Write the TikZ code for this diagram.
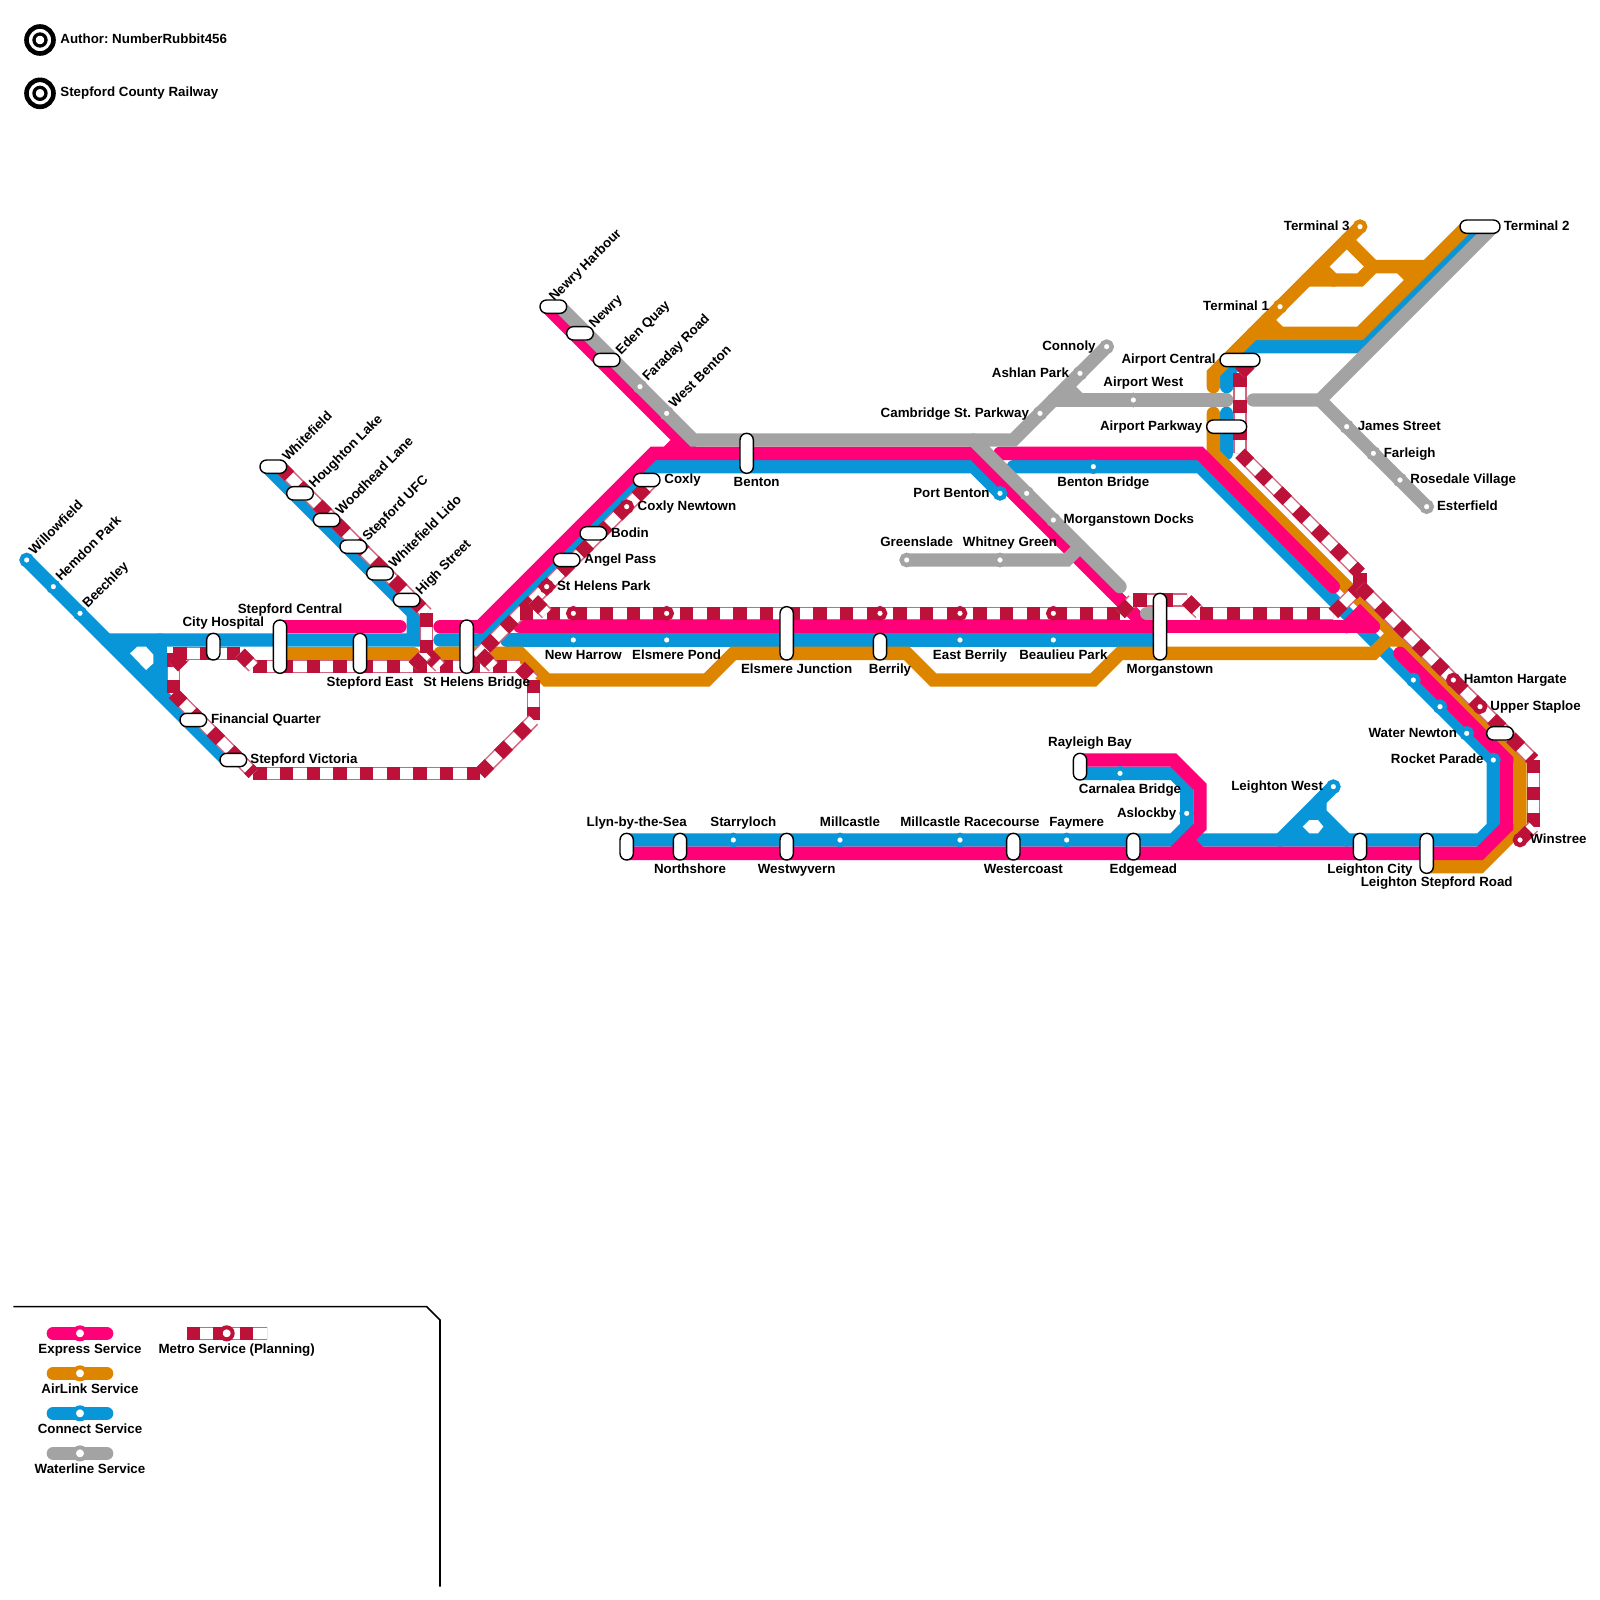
\documentclass[tikz,border=0pt]{standalone}
\usepackage{fontspec}
\setmainfont{Liberation Sans}
\frenchspacing
\definecolor{expresspink}{RGB}{255,0,120}
\definecolor{airlinkorange}{RGB}{222,133,0}
\definecolor{connectblue}{RGB}{9,150,216}
\definecolor{waterlinegrey}{RGB}{163,163,163}
\definecolor{metrored}{RGB}{188,17,56}
\begin{document}
\begin{tikzpicture}[x=6.667pt, y=-6.667pt,
  line/.style={line width=6.667pt, line cap=round},
  express/.style={line, draw=expresspink},
  airlink/.style={line, draw=airlinkorange},
  connect/.style={line, draw=connectblue},
  waterline/.style={line, draw=waterlinegrey},
  metro/.style={line width=6.667pt, draw=metrored!65,
    postaction={draw=white, line width=5.2pt},
    postaction={draw=metrored, line width=6.667pt, dash pattern=on 6.667pt off 6.667pt}},
  stn/.style={circle, draw=#1, fill=white, line width=2.2pt, minimum size=5.1pt, inner sep=0pt},
  legendstn/.style={circle, draw=#1, fill=white, line width=2pt, minimum size=6pt, inner sep=0pt},
  pillh/.style={draw=black, fill=white, line width=.7pt, rounded corners=3.3pt, inner sep=0pt, minimum height=6.667pt, minimum width=#1*6.667pt},
  pillv/.style={draw=black, fill=white, line width=.7pt, rounded corners=3.3pt, inner sep=0pt, minimum width=6.667pt, minimum height=#1*6.667pt},
  lbl/.style={font=\fontsize{6.667}{8}\selectfont\bfseries, inner sep=0pt, text height=5.5pt, text depth=.5pt},
  lblr/.style={lbl, anchor=west},
  lbll/.style={lbl, anchor=east},
  lbld/.style={lbl, anchor=west, rotate=45}
]
\useasboundingbox (0,0) rectangle (120,120);

\draw[connect] (2,42) -- (17,57);
\draw[connect] (8,48) -- (31,48) -- (31,46) -- (20,35);
\draw[connect] (12,48) -- (12,52);
\fill[connectblue] (8,48) -- (12,48) -- (12,52) -- cycle;
\fill[white] (9.75,49) -- (10.3,48.5) -- (10.95,48.5) -- (11.5,49.1) -- (11.5,49.75) -- (10.95,50.25) -- cycle;
\draw[connect] (33,48) -- (36,48) -- (49,35) -- (73,35) -- (75,37);
\draw[connect] (38,48) -- (87,48);
\draw[connect] (76,35) -- (90,35) -- (103,48) -- (112,57) -- (112,62) -- (111,63) -- (90,63);
\draw[connect] (47,63) -- (88,63) -- (89,62) -- (89,59) -- (88,58) -- (81,58);
\draw[connect] (100,59) -- (99,60) -- (99,61) -- (101,63);
\draw[connect] (100,59) -- (96,63);
\fill[connectblue] (96,63) -- (99,60) -- (99,61) -- (101,63) -- cycle;
\fill[white] (97.7,62) -- (98.2,61.5) -- (98.85,61.5) -- (99.25,62) -- (98.85,62.5) -- (98.2,62.5) -- cycle;
\draw[connect] (111,17) -- (102,26) -- (94,26) -- (92,28) -- (92,29);
\draw[connect] (92,31) -- (92,34);

\draw[airlink] (21,49) -- (31,49);
\draw[airlink] (33,49) -- (39,49) -- (41,51) -- (53,51) -- (55,49) -- (68,49) -- (70,51) -- (82,51) -- (84,49) -- (103,49) -- (104,48) -- (105,48);
\draw[airlink] (91,31) -- (91,34) -- (114,57) -- (114,62) -- (111,65) -- (107,65);
\draw[airlink] (91,29) -- (91,28) -- (102,17);
\draw[airlink] (101,18) -- (103,20) -- (107,20);
\draw[airlink] (98,21) -- (102,21) -- (103,20);
\draw[airlink] (99,20) -- (100,21);
\draw[airlink] (105,20) -- (106,21);
\draw[airlink] (94,25) -- (102,25) -- (110,17);
\draw[airlink] (95,24) -- (96,25);

\draw[express] (21,47) -- (30,47);
\draw[express] (33,47) -- (36,47) -- (49,34) -- (73,34) -- (86,47);
\draw[express] (39,47) -- (103,47);
\draw[express] (101,47) -- (102,46) -- (103,47);
\draw[express] (41,23) -- (52,34);
\draw[express] (50,34) -- (51,33);
\draw[express] (75,34) -- (90,34) -- (100,44);
\draw[express] (105,49) -- (113,57) -- (113,62) -- (111,64) -- (47,64);
\draw[express] (81,57) -- (88,57) -- (90,59) -- (90,62) -- (88,64);
\draw[express] (89,63) -- (90,64);

\draw[waterline] (42,23) -- (52,33) -- (76,33) -- (83,26);
\draw[waterline] (79,30) -- (92,30);
\draw[waterline] (80,29) -- (81,30);
\draw[waterline] (94,30) -- (99,30) -- (112,17);
\draw[waterline] (99,30) -- (107,38);
\draw[waterline] (73,33) -- (84,44);
\draw[waterline] (68,42) -- (80,42) -- (81,41);
\draw[waterline] (86,46) -- (87,46);

\draw[metro] (21,35) -- (32,46);
\draw[metro] (19,50) -- (39,50);
\draw[metro] (32,49) -- (33,50);
\draw[metro] (31,50) -- (32,49);
\draw[metro] (32,46) -- (32,49);
\draw[metro] (39,50) -- (40,51);
\draw[metro] (40,51) -- (40,54);
\draw[metro] (36,58) -- (40,54);
\draw[metro] (19,58) -- (36,58);
\draw[metro] (13,52) -- (19,58);
\draw[metro] (13,49) -- (13,52);
\draw[metro] (13,50) -- (14,49);
\draw[metro] (13,49) -- (18,49);
\draw[metro] (18,49) -- (19,50);
\draw[metro] (35,50) -- (49,36);
\draw[metro] (36,49) -- (37,50);
\draw[metro] (39,46) -- (84,46);
\draw[metro] (40,45) -- (41,46);
\draw[metro] (84,46) -- (85,45);
\draw[metro] (85,45) -- (89,45);
\draw[metro] (89,45) -- (90,46);
\draw[metro] (90,46) -- (100,46);
\draw[metro] (100,46) -- (102,44);
\draw[metro] (93,28) -- (93,34);
\draw[metro] (93,28) -- (94,27);
\draw[metro] (93,34) -- (102,43);
\draw[metro] (102,43) -- (102,44);
\draw[metro] (102,44) -- (115,57);
\draw[metro] (115,57) -- (115,62);
\draw[metro] (114,63) -- (115,62);

\node[stn=connectblue] (willowfield) at (2,42) {};
\node[stn=connectblue] (hemdonpark) at (4,44) {};
\node[stn=connectblue] (beechley) at (6,46) {};
\node[stn=connectblue] (newharrow) at (43,48) {};
\node[stn=connectblue] (elsmerepond) at (50,48) {};
\node[stn=connectblue] (eastberrily) at (72,48) {};
\node[stn=connectblue] (beaulieupark) at (79,48) {};
\node[stn=connectblue] (portbenton) at (75,37) {};
\node[stn=connectblue] (bentonbridge) at (82,35) {};
\node[stn=connectblue] (starryloch) at (55,63) {};
\node[stn=connectblue] (millcastle) at (63,63) {};
\node[stn=connectblue] (racecourse) at (72,63) {};
\node[stn=connectblue] (faymere) at (80,63) {};
\node[stn=connectblue] (carnalea) at (84,58) {};
\node[stn=connectblue] (aslockby) at (89,61) {};
\node[stn=connectblue] (leightonwest) at (100,59) {};
\node[stn=connectblue] (hamtonblue) at (106,51) {};
\node[stn=connectblue] (staploeblue) at (108,53) {};
\node[stn=connectblue] (waternewton) at (110,55) {};
\node[stn=connectblue] (rocketparade) at (112,57) {};
\node[stn=airlinkorange] (terminalone) at (96,23) {};
\node[stn=airlinkorange] (terminalthree) at (102,17) {};
\node[stn=waterlinegrey] (faradayroad) at (48,29) {};
\node[stn=waterlinegrey] (westbenton) at (50,31) {};
\node[stn=waterlinegrey] (connoly) at (83,26) {};
\node[stn=waterlinegrey] (ashlanpark) at (81,28) {};
\node[stn=waterlinegrey] (cambridge) at (78,31) {};
\node[stn=waterlinegrey] (airportwest) at (85,30) {};
\node[stn=waterlinegrey] (jamesstreet) at (101,32) {};
\node[stn=waterlinegrey] (farleigh) at (103,34) {};
\node[stn=waterlinegrey] (rosedale) at (105,36) {};
\node[stn=waterlinegrey] (esterfield) at (107,38) {};
\node[stn=waterlinegrey] (portbentongrey) at (77,37) {};
\node[stn=waterlinegrey] (morganstowndocks) at (79,39) {};
\node[stn=waterlinegrey] (greenslade) at (68,42) {};
\node[stn=waterlinegrey] (whitneygreen) at (75,42) {};
\node[stn=metrored] (sthelenspark) at (41,44) {};
\node[stn=metrored] (coxlynewtown) at (47,38) {};
\node[stn=metrored] (newharrowmetro) at (43,46) {};
\node[stn=metrored] (elsmeremetro) at (50,46) {};
\node[stn=metrored] (berrilymetro) at (66,46) {};
\node[stn=metrored] (eastberrilymetro) at (72,46) {};
\node[stn=metrored] (beaulieumetro) at (79,46) {};
\node[stn=metrored] (hamtonhargate) at (109,51) {};
\node[stn=metrored] (upperstaploe) at (111,53) {};
\node[stn=metrored] (winstree) at (114,63) {};

\node[pillh=2] (whitefield) at (20.5,35) {};
\node[pillh=2] (houghtonlake) at (22.5,37) {};
\node[pillh=2] (woodheadlane) at (24.5,39) {};
\node[pillh=2] (stepfordufc) at (26.5,41) {};
\node[pillh=2] (whitefieldlido) at (28.5,43) {};
\node[pillh=2] (highstreet) at (30.5,45) {};
\node[pillh=2] (financialquarter) at (14.5,54) {};
\node[pillh=2] (stepfordvictoria) at (17.5,57) {};
\node[pillh=2] (newryharbour) at (41.5,23) {};
\node[pillh=2] (newry) at (43.5,25) {};
\node[pillh=2] (edenquay) at (45.5,27) {};
\node[pillh=2] (coxly) at (48.5,36) {};
\node[pillh=2] (bodin) at (44.5,40) {};
\node[pillh=2] (angelpass) at (42.5,42) {};
\node[pillh=3] (airportcentral) at (93,27) {};
\node[pillh=3] (airportparkway) at (92,32) {};
\node[pillh=3] (terminaltwo) at (111,17) {};
\node[pillh=2] (staploepill) at (112.5,55) {};
\node[pillv=2] (cityhospital) at (16,48.5) {};
\node[pillv=4] (stepfordcentral) at (21,48.5) {};
\node[pillv=3] (stepfordeast) at (27,49) {};
\node[pillv=4] (sthelensbridge) at (35,48.5) {};
\node[pillv=3] (benton) at (56,34) {};
\node[pillv=4] (elsmerejunction) at (59,47.5) {};
\node[pillv=2] (berrily) at (66,48.5) {};
\node[pillv=5] (morganstown) at (87,47) {};
\node[pillv=2] (llyn) at (47,63.5) {};
\node[pillv=2] (northshore) at (51,63.5) {};
\node[pillv=2] (westwyvern) at (59,63.5) {};
\node[pillv=2] (westercoast) at (76,63.5) {};
\node[pillv=2] (edgemead) at (85,63.5) {};
\node[pillv=2] (rayleighbay) at (81,57.5) {};
\node[pillv=2] (leightoncity) at (102,63.5) {};
\node[pillv=3] (leightonstepford) at (107,64) {};

\node[lbld] (willowfieldlbl) at (2.3,41.4) {Willowfield};
\node[lbld] (hemdonparklbl) at (4.3,43.4) {Hemdon Park};
\node[lbld] (beechleylbl) at (6.3,45.4) {Beechley};
\node[lbld] (whitefieldlbl) at (21.3,34.4) {Whitefield};
\node[lbld] (houghtonlakelbl) at (23.3,36.4) {Houghton Lake};
\node[lbld] (woodheadlanelbl) at (25.3,38.4) {Woodhead Lane};
\node[lbld] (stepfordufclbl) at (27.3,40.4) {Stepford UFC};
\node[lbld] (whitefieldlidolbl) at (29.3,42.4) {Whitefield Lido};
\node[lbld] (highstreetlbl) at (31.3,44.4) {High Street};
\node[lbld] (newryharbourlbl) at (41.3,22.4) {Newry Harbour};
\node[lbld] (newrylbl) at (44.3,24.4) {Newry};
\node[lbld] (edenquaylbl) at (46.3,26.4) {Eden Quay};
\node[lbld] (faradayroadlbl) at (48.3,28.4) {Faraday Road};
\node[lbld] (westbentonlbl) at (50.3,30.4) {West Benton};

\node[lbl] (cityhospitallbl) at (16.75,46.6) {City Hospital};
\node[lbl] (stepfordcentrallbl) at (21.75,45.6) {Stepford Central};
\node[lbl] (stepfordeastlbl) at (27.75,51.1) {Stepford East};
\node[lbl] (sthelensbridgelbl) at (35.75,51.1) {St Helens Bridge};
\node[lblr] (financialquarterlbl) at (15.8,53.9) {Financial Quarter};
\node[lblr] (stepfordvictorialbl) at (18.75,56.9) {Stepford Victoria};
\node[lbl] (bentonlbl) at (56.75,36.1) {Benton};
\node[lblr] (coxlylbl) at (49.8,35.9) {Coxly};
\node[lblr] (coxlynewtownlbl) at (47.8,37.9) {Coxly Newtown};
\node[lblr] (bodinlbl) at (45.8,39.9) {Bodin};
\node[lblr] (angelpasslbl) at (43.8,41.9) {Angel Pass};
\node[lblr] (sthelensparklbl) at (41.75,43.9) {St Helens Park};
\node[lbl] (newharrowlbl) at (43.75,49.1) {New Harrow};
\node[lbl] (elsmerepondlbl) at (50.75,49.1) {Elsmere Pond};
\node[lbl] (elsmerejunctionlbl) at (59.75,50.1) {Elsmere Junction};
\node[lbl] (berrilylbl) at (66.75,50.1) {Berrily};
\node[lbl] (eastberrilylbl) at (72.75,49.1) {East Berrily};
\node[lbl] (beaulieuparklbl) at (79.75,49.1) {Beaulieu Park};
\node[lbl] (morganstownlbl) at (87.75,50.1) {Morganstown};
\node[lbll] (portbentonlbl) at (74.25,36.9) {Port Benton};
\node[lbl] (bentonbridgelbl) at (82.75,36.1) {Benton Bridge};
\node[lblr] (morganstowndockslbl) at (79.75,38.9) {Morganstown Docks};
\node[lbl] (whitneygreenlbl) at (75.75,40.6) {Whitney Green};
\node[lbl] (greensladelbl) at (68.75,40.6) {Greenslade};
\node[lbll] (cambridgelbl) at (77.2,30.9) {Cambridge St. Parkway};
\node[lbll] (ashlanparklbl) at (80.2,27.9) {Ashlan Park};
\node[lbll] (connolylbl) at (82.2,25.9) {Connoly};
\node[lbl] (airportwestlbl) at (85.75,28.6) {Airport West};
\node[lbll] (airportcentrallbl) at (91.2,26.9) {Airport Central};
\node[lbll] (airportparkwaylbl) at (90.2,31.9) {Airport Parkway};
\node[lbll] (terminalthreelbl) at (101.25,16.9) {Terminal 3};
\node[lbll] (terminalonelbl) at (95.2,22.9) {Terminal 1};
\node[lblr] (terminaltwolbl) at (112.75,16.9) {Terminal 2};
\node[lblr] (jamesstreetlbl) at (101.8,31.9) {James Street};
\node[lblr] (farleighlbl) at (103.75,33.9) {Farleigh};
\node[lblr] (rosedalelbl) at (105.75,35.9) {Rosedale Village};
\node[lblr] (esterfieldlbl) at (107.75,37.9) {Esterfield};
\node[lblr] (hamtonhargatelbl) at (109.75,50.9) {Hamton Hargate};
\node[lblr] (upperstaploelbl) at (111.75,52.9) {Upper Staploe};
\node[lbll] (waternewtonlbl) at (109.3,54.9) {Water Newton};
\node[lbll] (rocketparadelbl) at (111.3,56.9) {Rocket Parade};
\node[lblr] (winstreelbl) at (114.75,62.9) {Winstree};
\node[lbl] (leightonstepfordlbl) at (107.75,66.1) {Leighton Stepford Road};
\node[lbl] (leightoncitylbl) at (102.75,65.1) {Leighton City};
\node[lbll] (leightonwestlbl) at (99.25,58.9) {Leighton West};
\node[lbl] (edgemeadlbl) at (85.75,65.1) {Edgemead};
\node[lbl] (westercoastlbl) at (76.75,65.1) {Westercoast};
\node[lbl] (westwyvernlbl) at (59.75,65.1) {Westwyvern};
\node[lbl] (northshorelbl) at (51.75,65.1) {Northshore};
\node[lbl] (llynlbl) at (47.75,61.6) {Llyn-by-the-Sea};
\node[lbl] (starrylochlbl) at (55.75,61.6) {Starryloch};
\node[lbl] (millcastlelbl) at (63.75,61.6) {Millcastle};
\node[lbl] (racecourselbl) at (72.75,61.6) {Millcastle Racecourse};
\node[lbl] (faymerelbl) at (80.75,61.6) {Faymere};
\node[lbl] (rayleighbaylbl) at (81.75,55.6) {Rayleigh Bay};
\node[lbl] (carnalealbl) at (84.75,59.1) {Carnalea Bridge};
\node[lbll] (aslockbylbl) at (88.25,60.9) {Aslockby};

\node[circle, draw=black, line width=2.3pt, minimum size=13.5pt, inner sep=0pt] (authorring) at (3,3) {};
\node[circle, draw=black, line width=1.65pt, minimum size=6pt, inner sep=0pt] (authordot) at (3,3) {};
\node[lblr] (authorlbl) at (4.5,2.9) {Author: NumberRubbit456};
\node[circle, draw=black, line width=2.3pt, minimum size=13.5pt, inner sep=0pt] (countyring) at (3,7) {};
\node[circle, draw=black, line width=1.65pt, minimum size=6pt, inner sep=0pt] (countydot) at (3,7) {};
\node[lblr] (countylbl) at (4.5,6.9) {Stepford County Railway};

\draw[line width=.8pt] (1,98) -- (32,98) -- (33,99) -- (33,119);
\draw[express] (4,100) -- (8,100);
\node[legendstn=expresspink] (expressstn) at (6,100) {};
\node[lbl] (expresslbl) at (6.75,101.1) {Express Service};
\draw[airlink] (4,103) -- (8,103);
\node[legendstn=airlinkorange] (airlinkstn) at (6,103) {};
\node[lbl] (airlinklbl) at (6.75,104.1) {AirLink Service};
\draw[connect] (4,106) -- (8,106);
\node[legendstn=connectblue] (connectstn) at (6,106) {};
\node[lbl] (connectlbl) at (6.75,107.1) {Connect Service};
\draw[waterline] (4,109) -- (8,109);
\node[legendstn=waterlinegrey] (waterlinestn) at (6,109) {};
\node[lbl] (waterlinelbl) at (6.75,110.1) {Waterline Service};
\draw[metro] (14,100) -- (20,100);
\node[legendstn=metrored] (metrostn) at (17,100) {};
\node[lbl] (metrolbl) at (17.75,101.1) {Metro Service (Planning)};
\end{tikzpicture}
\end{document}
